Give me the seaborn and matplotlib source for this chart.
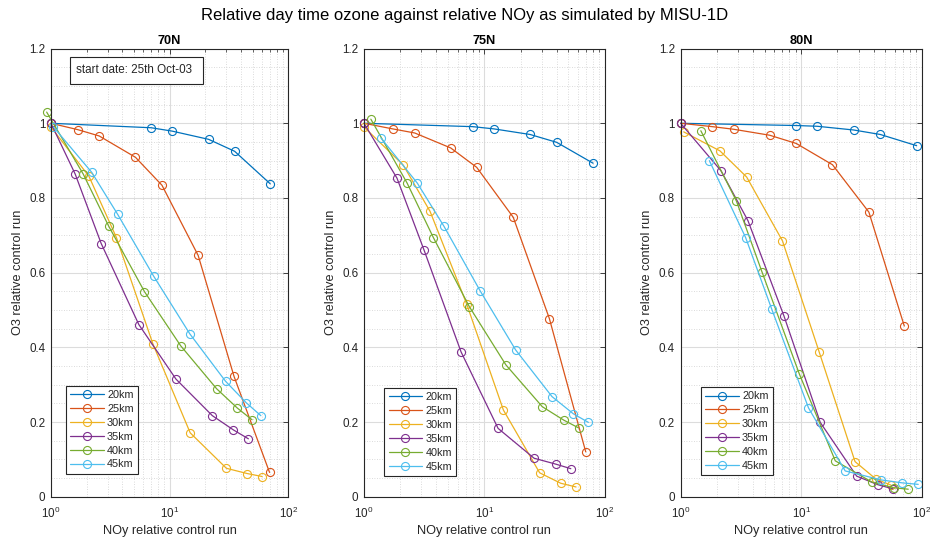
import numpy as np
import pandas as pd
import matplotlib
matplotlib.use("Agg")
import matplotlib.pyplot as plt
import seaborn as sns
from matplotlib.patches import Rectangle
from matplotlib.ticker import LogLocator, MultipleLocator, FixedLocator, NullFormatter

# ---------------- data ----------------
altitudes = ["20km", "25km", "30km", "35km", "40km", "45km"]
colors = ["#0072BD", "#D95319", "#EDB120", "#7E2F8E", "#77AC30", "#4DBEEE"]
panel_titles = ["70N", "75N", "80N"]

noy_70N = {
    "20km": [1, 7.0, 10.5, 21.3, 35.3, 70.4],
    "25km": [1, 1.68, 2.55, 5.15, 8.62, 17.4, 34.9, 69.5],
    "30km": [1, 2.09, 3.56, 7.23, 14.9, 30.1, 45.0, 60.2],
    "35km": [1, 1.6, 2.65, 5.5, 11.3, 22.9, 34.4, 46.1],
    "40km": [0.92, 1.87, 3.06, 6.14, 12.4, 24.9, 37.3, 49.5],
    "45km": [1.05, 2.2, 3.65, 7.32, 14.8, 29.6, 44.4, 58.7],
}
o3_70N = {
    "20km": [1, 0.988, 0.979, 0.957, 0.925, 0.838],
    "25km": [1, 0.983, 0.966, 0.909, 0.834, 0.646, 0.322, 0.065],
    "30km": [0.99, 0.858, 0.694, 0.409, 0.171, 0.076, 0.062, 0.054],
    "35km": [1, 0.864, 0.678, 0.461, 0.315, 0.217, 0.179, 0.155],
    "40km": [1.03, 0.864, 0.725, 0.549, 0.404, 0.289, 0.237, 0.206],
    "45km": [0.99, 0.869, 0.756, 0.591, 0.436, 0.309, 0.251, 0.217],
}

noy_75N = {
    "20km": [1, 8.0, 12.0, 24.0, 39.9, 80.1],
    "25km": [1, 1.73, 2.64, 5.25, 8.64, 17.4, 34.7, 69.6],
    "30km": [1, 2.12, 3.54, 7.13, 14.4, 28.8, 43.1, 57.8],
    "35km": [1, 1.88, 3.15, 6.4, 13.0, 25.9, 39.4, 52.3],
    "40km": [1.14, 2.28, 3.77, 7.5, 15.1, 30.3, 45.7, 60.9],
    "45km": [1.38, 2.77, 4.62, 9.2, 18.2, 36.5, 54.9, 73.2],
}
o3_75N = {
    "20km": [1, 0.991, 0.985, 0.970, 0.949, 0.893],
    "25km": [1, 0.985, 0.974, 0.934, 0.882, 0.748, 0.477, 0.120],
    "30km": [0.99, 0.888, 0.764, 0.516, 0.232, 0.064, 0.036, 0.026],
    "35km": [1, 0.853, 0.661, 0.388, 0.183, 0.103, 0.087, 0.075],
    "40km": [1.011, 0.840, 0.694, 0.509, 0.353, 0.241, 0.205, 0.184],
    "45km": [0.961, 0.840, 0.724, 0.552, 0.393, 0.268, 0.222, 0.199],
}

noy_80N = {
    "20km": [1, 9.1, 13.6, 27.3, 45.4, 90.9],
    "25km": [1, 1.83, 2.75, 5.48, 9.1, 18.2, 36.5, 71.8],
    "30km": [1.06, 2.12, 3.53, 7.0, 14.1, 28.0, 41.8, 55.6],
    "35km": [1, 2.16, 3.62, 7.2, 14.4, 28.9, 43.4, 57.8],
    "40km": [1.47, 2.9, 4.73, 9.65, 19.2, 38.7, 58.6, 77.4],
    "45km": [1.73, 3.46, 5.69, 11.5, 23.2, 45.9, 69.0, 93.7],
}
o3_80N = {
    "20km": [1, 0.994, 0.992, 0.982, 0.970, 0.940],
    "25km": [1, 0.991, 0.984, 0.968, 0.946, 0.889, 0.762, 0.457],
    "30km": [0.977, 0.926, 0.856, 0.685, 0.388, 0.094, 0.047, 0.031],
    "35km": [1, 0.873, 0.739, 0.484, 0.199, 0.055, 0.032, 0.021],
    "40km": [0.980, 0.792, 0.602, 0.329, 0.096, 0.039, 0.024, 0.020],
    "45km": [0.900, 0.694, 0.503, 0.238, 0.069, 0.045, 0.037, 0.033],
}

y_ticks = [0, 0.2, 0.4, 0.6, 0.8, 1.0, 1.2]
y_tick_labels = ["0", "0.2", "0.4", "0.6", "0.8", "1", "1.2"]
x_ticks = [1, 10, 100]

suptitle = "Relative day time ozone against relative NOy as simulated by MISU-1D"
xlabel = "NOy relative control run"
ylabel = "O3 relative control run"
note = "start date: 25th Oct-03"

# ---------------- style ----------------
sns.set_style("white")
plt.rcParams['font.family'] = ['Liberation Sans', 'DejaVu Sans']
plt.rcParams['mathtext.fontset'] = 'custom'
plt.rcParams['mathtext.rm'] = 'Liberation Sans'
plt.rcParams['mathtext.it'] = 'Liberation Sans'
DARK = "#262626"

fig = plt.figure(figsize=(9.3, 5.43), dpi=100)

bottom, height = 0.0853, 0.8252
positions = [
    (0.0548, bottom, 0.2552, height),
    (0.3914, bottom, 0.2588, height),
    (0.7319, bottom, 0.2591, height),
]
legend_anchor = [(0.063, 0.051), (0.084, 0.046), (0.084, 0.048)]

panels = [(noy_70N, o3_70N), (noy_75N, o3_75N), (noy_80N, o3_80N)]

for k, (pos, (noy, o3)) in enumerate(zip(positions, panels)):
    ax = fig.add_axes(pos)
    ax.set_xscale("log")
    for alt, c in zip(altitudes, colors):
        df = pd.DataFrame({"noy": noy[alt], "o3": o3[alt]})
        sns.lineplot(data=df, x="noy", y="o3", ax=ax, color=c, marker="o",
                     markersize=5.8, markerfacecolor="none", markeredgecolor=c,
                     markeredgewidth=0.8, linewidth=0.9, sort=False,
                     estimator=None, label=alt, clip_on=False)
    ax.set_xlim(1, 100)
    ax.set_ylim(0, 1.2)
    ax.xaxis.set_major_locator(FixedLocator(x_ticks))
    ax.xaxis.set_minor_locator(LogLocator(base=10, subs=np.arange(2, 10)))
    ax.xaxis.set_minor_formatter(NullFormatter())
    ax.set_yticks(y_ticks)
    ax.set_yticklabels(y_tick_labels)
    ax.yaxis.set_minor_locator(MultipleLocator(0.05))

    ax.set_axisbelow(True)
    ax.grid(which="major", color="#dcdcdc", lw=0.8, ls="-")
    ax.grid(which="minor", color="#cfcfcf", lw=0.6, ls=(0, (1, 2)))

    ax.tick_params(which="both", direction="in", top=True, right=True,
                   colors=DARK, labelcolor=DARK, labelsize=8.4)
    ax.tick_params(which="major", length=3.5, width=0.6)
    ax.tick_params(axis="y", which="major", pad=4)
    ax.tick_params(axis="x", which="major", pad=6.5)
    ax.tick_params(which="minor", length=2, width=0.5)
    ax.tick_params(axis="y", which="minor", length=0)
    for sp in ax.spines.values():
        sp.set_color(DARK)
        sp.set_linewidth(0.8)

    ax.set_title(panel_titles[k], fontsize=9.2, fontweight="bold", pad=3, color="black")
    ax.set_xlabel(xlabel, fontsize=9.2, color=DARK, labelpad=3)
    ax.set_ylabel(ylabel, fontsize=9.2, color=DARK, labelpad=4)

    handles, labels = ax.get_legend_handles_labels()
    leg = ax.legend(handles, labels, loc="lower left",
                    bbox_to_anchor=legend_anchor[k], borderaxespad=0,
                    frameon=True, fancybox=False, edgecolor=DARK,
                    fontsize=7.8, handlelength=3.1, handletextpad=0.3,
                    labelspacing=0.36, borderpad=0.4, framealpha=1)
    leg.get_frame().set_linewidth(0.8)

    if k == 0:
        ax.add_patch(Rectangle((0.0804, 0.921), 0.5616, 0.0609,
                               transform=ax.transAxes, fill=True,
                               facecolor="white", edgecolor=DARK, lw=0.8,
                               zorder=5, clip_on=False))
        ax.text(0.106, 0.9513, note, transform=ax.transAxes, fontsize=8.4,
                va="center", ha="left", color=DARK, zorder=6)

fig.text(0.5, 0.972, suptitle, ha="center", va="center", fontsize=12, color="black")

fig.savefig("out.png", dpi=100)
